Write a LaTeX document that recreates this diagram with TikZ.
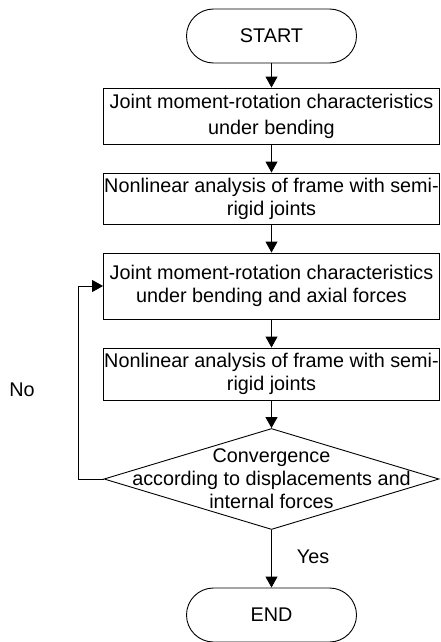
\documentclass[tikz,border=0pt]{standalone}
\usepackage{fontspec}
\setmainfont{Liberation Sans}
\usetikzlibrary{positioning}
\usetikzlibrary{arrows.meta}
\usetikzlibrary{shapes.geometric}

\begin{document}
\begin{tikzpicture}[x=1pt,y=-1pt,line width=0.9pt,
  every node/.style={font=\fontsize{19.8}{23}\selectfont},
  term/.style={draw,rounded corners=27pt,minimum width=170pt,minimum height=54pt,inner sep=0pt},
  stepbox/.style={draw,align=center,minimum width=336pt,inner sep=0pt},
  decide/.style={draw,diamond,minimum width=335pt,minimum height=101pt,inner sep=0pt},
  flow/.style={-{Triangle[length=11pt,width=12pt]}}]
 \useasboundingbox (0,0) rectangle (440,642);
 \node[term] (start) at (271.5,36) {START};
 \node[stepbox,minimum height=56pt] (bend) at (271.5,116) {Joint moment-rotation characteristics\\[3pt]under bending};
 \node[stepbox,minimum height=51pt] (frame1) at (271.5,198.5) {Nonlinear analysis of frame with semi-\\rigid joints};
 \node[stepbox,minimum height=66pt] (axial) at (271.5,286) {Joint moment-rotation characteristics\\under bending and axial forces};
 \node[stepbox,minimum height=52pt] (frame2) at (271.5,374) {Nonlinear analysis of frame with semi-\\rigid joints};
 \node[decide,label={[align=center]center:Convergence\\according to displacements and\\internal forces}] (conv) at (271.5,479) {};
 \node[term] (stop) at (271.5,615) {END};
 \node (yes) at (313,557) {Yes};
 \node (no) at (22,390) {No};
 \draw[flow] (start) -- (bend);
 \draw[flow] (bend) -- (frame1);
 \draw[flow] (frame1) -- (axial);
 \draw[flow] (axial) -- (frame2);
 \draw[flow] (frame2) -- (conv);
 \draw[flow] (conv) -- (stop);
 \draw[flow] (conv.west) -- ++(-25,0) |- (axial.west);
\end{tikzpicture}
\end{document}
